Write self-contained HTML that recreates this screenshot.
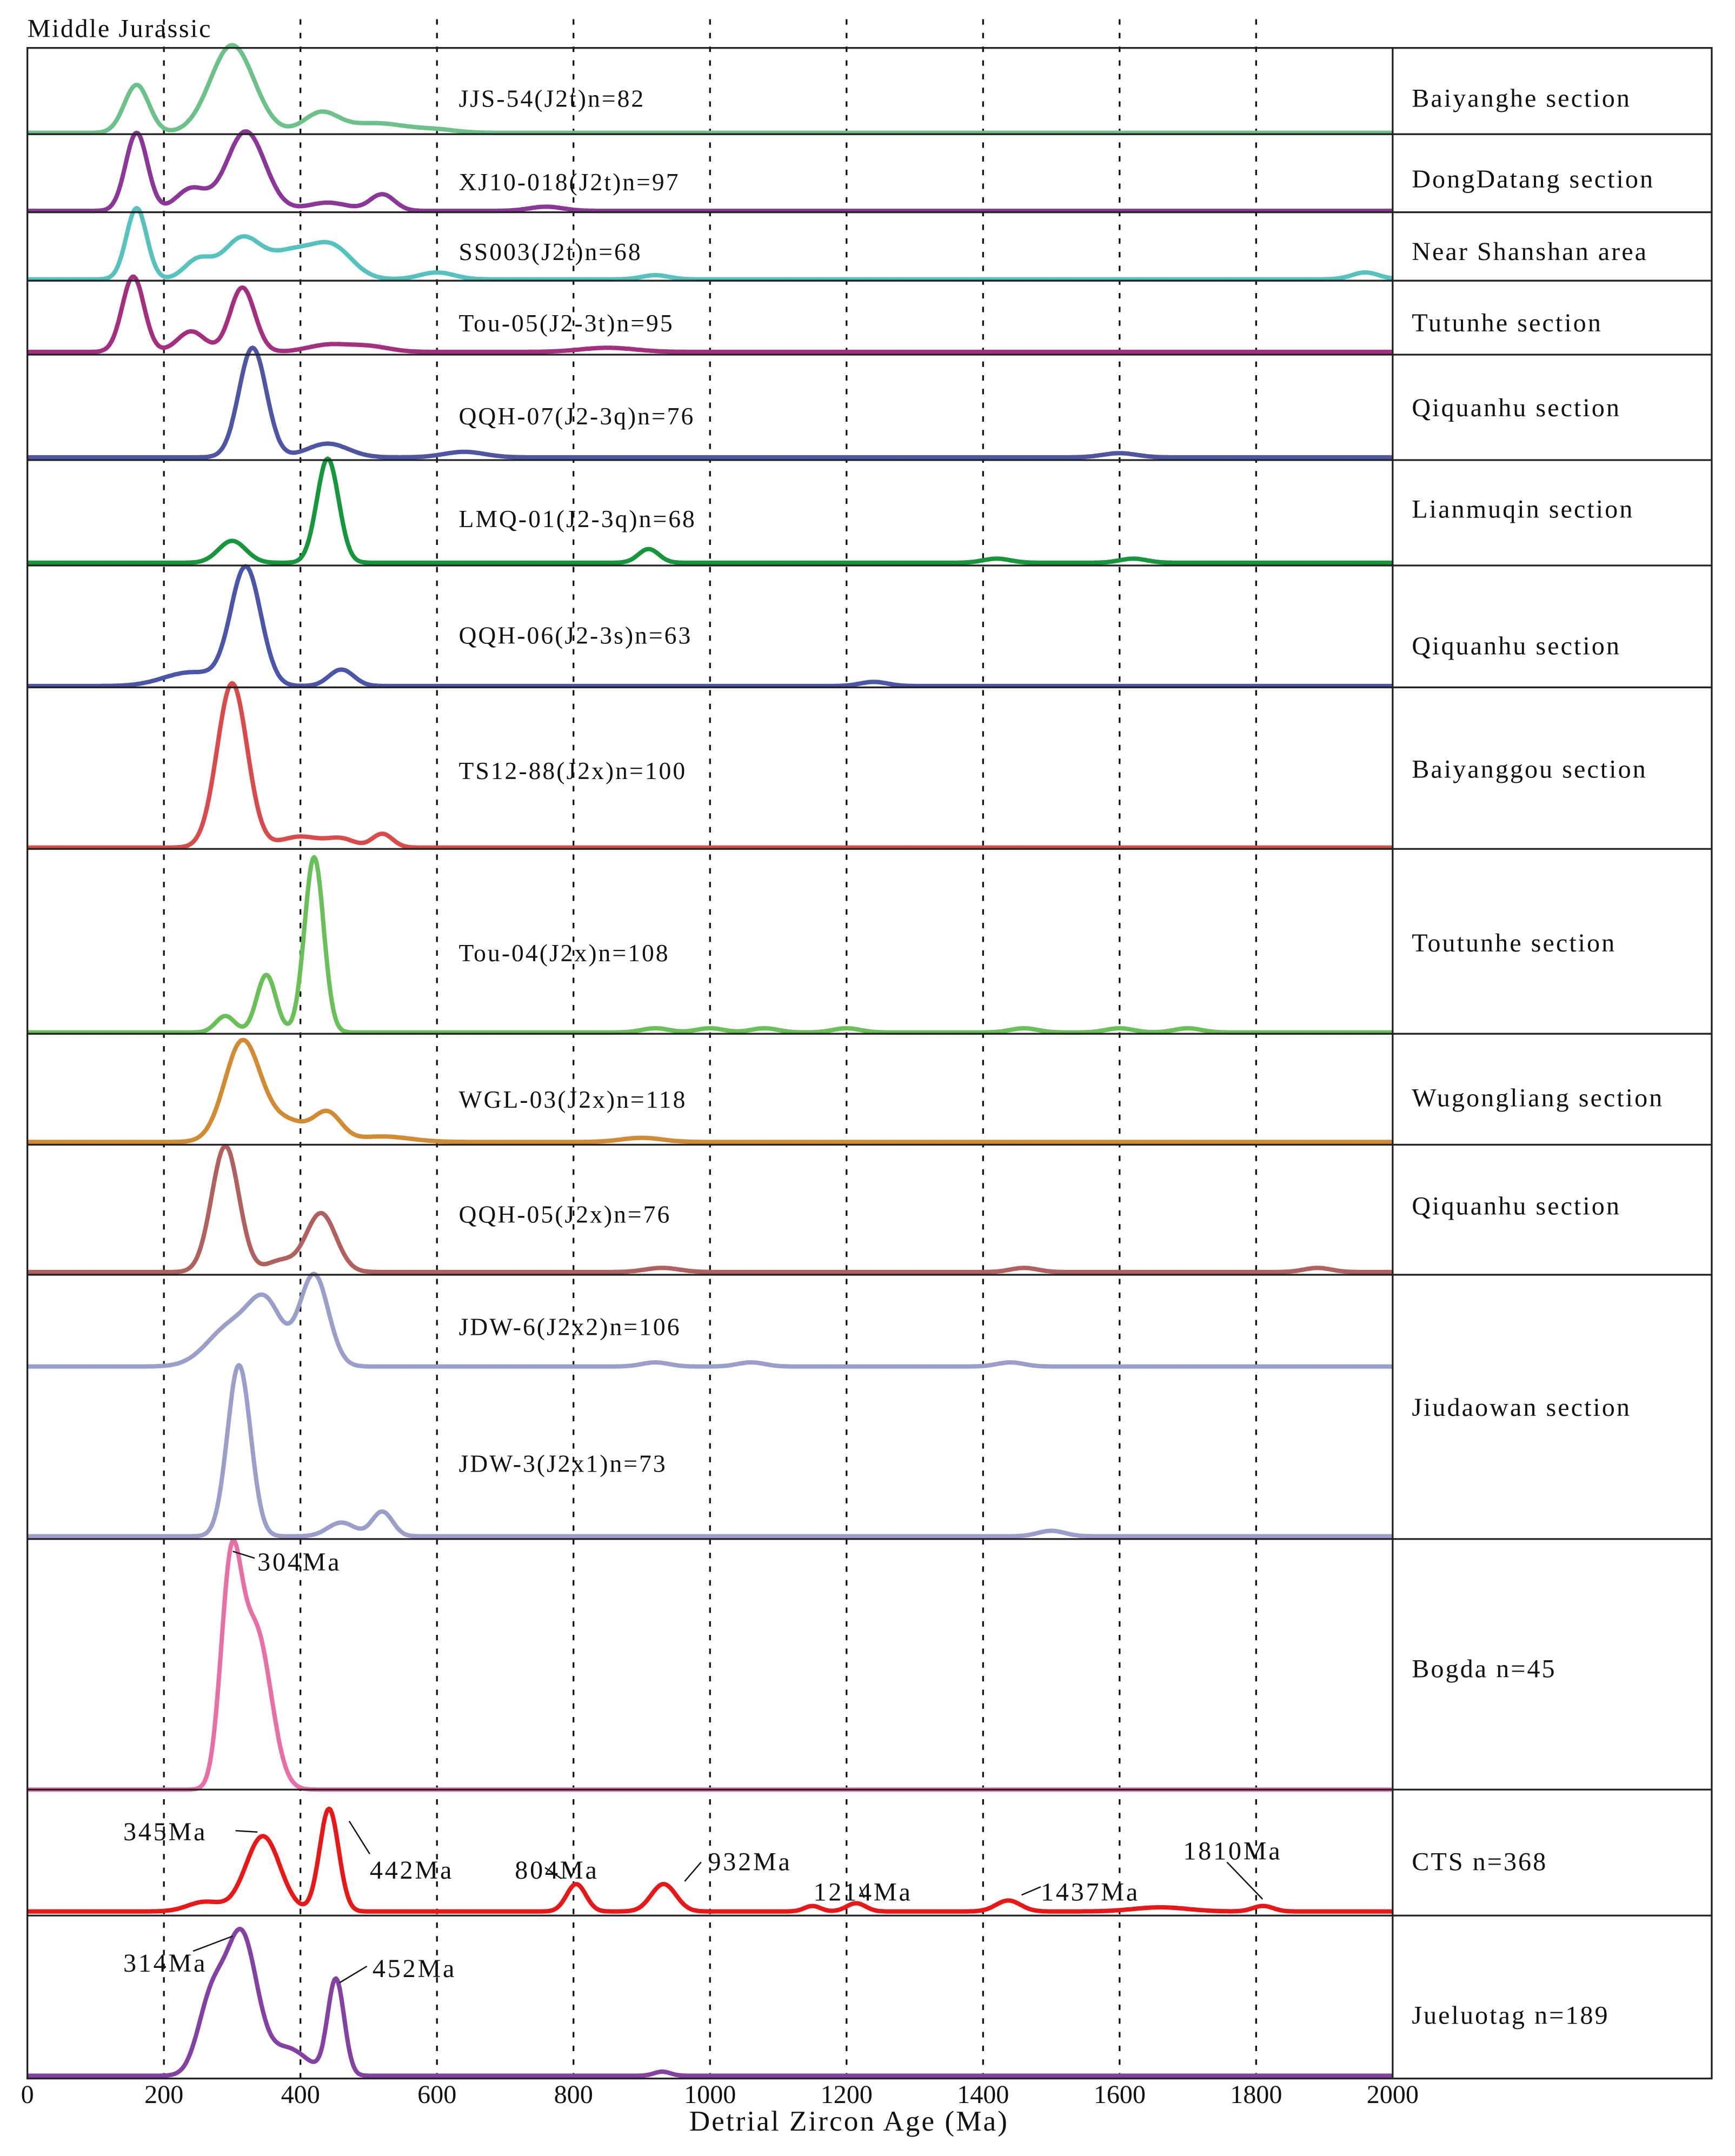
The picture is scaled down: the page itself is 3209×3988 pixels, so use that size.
<!DOCTYPE html>
<html><head><meta charset="utf-8"><style>
html,body{margin:0;padding:0;background:#fff}
svg{display:block}
text{font-family:"Liberation Serif",serif;fill:#111}
</style></head><body>
<svg id="chart" xmlns="http://www.w3.org/2000/svg" width="3209" height="3988" viewBox="0 0 1267 1574.6" preserveAspectRatio="none">
<rect x="0" y="0" width="1267" height="1574.6" fill="#fff"/>
<text x="20" y="27" font-size="19" letter-spacing="1">Middle  Jurassic</text>
<g id="grid"></g><g id="curves"></g><g id="frame"></g><g id="labels"></g><g id="axis"></g>
<g id="annot" font-size="19" stroke="#111" stroke-width="1">
<line x1="172" y1="1337" x2="188" y2="1338"/>
<line x1="255" y1="1330" x2="270" y2="1354"/>
<line x1="410" y1="1372" x2="398" y2="1364"/>
<line x1="500" y1="1374" x2="512" y2="1360"/>
<line x1="631" y1="1386" x2="628" y2="1378"/>
<line x1="746" y1="1384" x2="760" y2="1378"/>
<line x1="922" y1="1387" x2="896" y2="1360"/>
<line x1="141" y1="1425" x2="170" y2="1414"/>
<line x1="248" y1="1448" x2="268" y2="1436"/>
<line x1="170" y1="1133" x2="186" y2="1138"/>
</g>
<g font-size="19" letter-spacing="1.5">
<text x="188" y="1147">304Ma</text>
<text x="90" y="1344">345Ma</text>
<text x="270" y="1372">442Ma</text>
<text x="376" y="1372">804Ma</text>
<text x="517" y="1366">932Ma</text>
<text x="594" y="1388">1214Ma</text>
<text x="760" y="1388">1437Ma</text>
<text x="864" y="1358">1810Ma</text>
<text x="90" y="1440">314Ma</text>
<text x="272" y="1444">452Ma</text>
</g>
</svg>
<script>
// x-axis ticks
const tickValues=[0,200,400,600,800,1000,1200,1400,1600,1800,2000];
const gridValues=[200,400,600,800,1000,1200,1400,1600,1800];
// panel boundaries (rows)
const rowTops=[35,98,155,205,259,336,413,502,620,755,836,931,1124,1307,1399];
const rowLabels=["Baiyanghe section","DongDatang section","Near Shanshan area","Tutunhe section","Qiquanhu section","Lianmuqin section","Qiquanhu section","Baiyanggou section","Toutunhe section","Wugongliang section","Qiquanhu section","Jiudaowan section","Bogda n=45","CTS n=368","Jueluotag n=189"];
const rowLabelY=[78,137,190,242,304,378,478,568,695,808,887,1034,1225,1366,1478];
// samples
const sampleNames=["JJS-54(J2t)n=82","XJ10-018(J2t)n=97","SS003(J2t)n=68","Tou-05(J2-3t)n=95","QQH-07(J2-3q)n=76","LMQ-01(J2-3q)n=68","QQH-06(J2-3s)n=63","TS12-88(J2x)n=100","Tou-04(J2x)n=108","WGL-03(J2x)n=118","QQH-05(J2x)n=76","JDW-6(J2x2)n=106","JDW-3(J2x1)n=73"];
const sampleLabelY=[78,139,190,242,310,385,470,569,702,809,893,975,1075];
const colors=["#6cc08a","#8a3797","#55c2bd","#a52f7f","#4f55a3","#17973c","#4b56a8","#d94a4a","#69bf58","#d08b33","#b0605e","#9a9ec9","#9a9ec9","#e86ea6","#e81818","#8341a1"];
const baselines=[97,154,204,257,334,411,501,619,754,834,929,998,1122,1307,1396,1516];
// peaks per sample: ages (Ma), heights (px above baseline), widths (sigma, Ma)
const ages=[
[160,300,430,510,600],
[160,240,320,440,520,760],
[160,250,315,385,445,600,920,1960],
[155,240,315,440,500,850],
[330,440,640,1600],
[300,440,910,1420,1620],
[240,320,460,1240],
[300,400,460,520],
[290,350,420,920,1000,1080,1200,1460,1600,1700],
[315,380,440,520,900],
[290,370,430,930,1460,1890],
[300,350,420,920,1060,1440],
[310,460,520,1500],
[298,335],
[260,345,442,804,932,1150,1214,1437,1660,1810],
[270,314,380,452,930]];
const heights=[
[35,64,14,7,2],
[57,16,58,6,12,3],
[52,14,30,18,24,5,3,5],
[55,15,47,5,4,3],
[80,10,4,3],
[16,76,10,3,3],
[10,86,12,3],
[120,8,6,10],
[12,42,128,3,3,3,3,3,3,3],
[73,15,20,4,3],
[92,8,43,3,3,3],
[30,40,67,3,3,3],
[125,10,18,4],
[150,115],
[7,55,75,20,20,4,6,8,3,4],
[55,100,20,70,3]];
const widths=[
[18,32,25,45,30],
[16,22,28,30,18,25],
[15,20,28,30,30,25,20,20],
[16,20,18,30,30,40],
[20,30,30,25],
[20,16,15,20,20],
[40,22,18,20],
[22,30,20,15],
[14,14,14,20,20,20,20,20,20,20],
[26,30,20,40,30],
[20,20,22,25,20,20],
[35,24,21,20,20,20],
[17,20,15,20],
[15,22],
[25,25,14,14,18,12,14,18,40,15],
[20,22,30,12,12]];

const NS="http://www.w3.org/2000/svg";
const X0=20,X1=1017;
function xs(a){return X0+(a/2000)*(X1-X0);}
function mk(tag,attrs,parent){const e=document.createElementNS(NS,tag);for(const k in attrs)e.setAttribute(k,attrs[k]);parent.appendChild(e);return e;}
const grid=document.getElementById('grid'),curves=document.getElementById('curves'),frame=document.getElementById('frame'),labels=document.getElementById('labels'),axis=document.getElementById('axis');
gridValues.forEach(v=>{const l=mk('line',{x1:xs(v),x2:xs(v),y1:14,y2:1518,stroke:'#111','stroke-width':1.3,'stroke-dasharray':'4,6'},grid);

});
ages.forEach((pk,i)=>{let d='';for(let a=0;a<=2000;a+=2){let y=0;for(let j=0;j<pk.length;j++){const z=(a-pk[j])/widths[i][j];y+=heights[i][j]*Math.exp(-0.5*z*z);}d+=(a?'L':'M')+xs(a).toFixed(1)+','+(baselines[i]-y).toFixed(1);}
const p=mk('path',{d:d,fill:'none',stroke:colors[i],'stroke-width':3.2,'stroke-linejoin':'round'},curves);

});
const fr=mk('rect',{x:20,y:35,width:1230,height:1483,fill:'none',stroke:'#222','stroke-width':1.3},frame);


const dv=mk('line',{x1:1017,x2:1017,y1:35,y2:1518,stroke:'#222','stroke-width':1.3},frame);


rowTops.slice(1).forEach((y,i)=>{const l=mk('line',{x1:20,x2:1250,y1:y,y2:y,stroke:'#222','stroke-width':1.3},frame);

});
rowLabels.forEach((t,i)=>{const e=mk('text',{x:1031,y:rowLabelY[i],'font-size':19,'letter-spacing':1.2},labels);e.textContent=t;

});
sampleLabelY.forEach((y,i)=>{const e=mk('text',{x:335,y:y,'font-size':18,'letter-spacing':1.2},labels);e.textContent=sampleNames[i];

});
tickValues.forEach(v=>{const e=mk('text',{x:xs(v),y:1536,'font-size':19,'text-anchor':'middle'},axis);e.textContent=v;

});
const xt=mk('text',{x:620,y:1556,'font-size':21,'text-anchor':'middle','letter-spacing':1.2},axis);xt.textContent='Detrial Zircon Age (Ma)';


</script>
</body></html>
